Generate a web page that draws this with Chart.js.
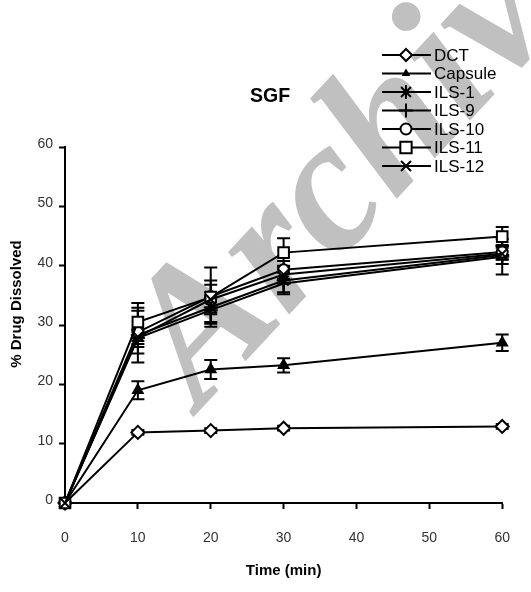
<!DOCTYPE html>
<html>
<head>
<meta charset="utf-8">
<script src="https://cdn.jsdelivr.net/npm/chart.js@4.4.1/dist/chart.umd.min.js"></script>
<style>
  html, body { margin: 0; padding: 0; background: #fff; }
  #wrap { width: 531px; height: 592px; }
</style>
</head>
<body>
<div id="wrap"><canvas id="sgfChart" width="531" height="592"></canvas></div>
<script>
// sampling times (min)
const times = [0, 10, 20, 30, 60];
const xTicks = [0, 10, 20, 30, 40, 50, 60];
const yTicks = [0, 10, 20, 30, 40, 50, 60];

// % drug dissolved
const dct = [0, 11.9, 12.2, 12.6, 12.9];
const capsule = [0, 19.0, 22.5, 23.2, 27.0];
const ils1 = [0, 28.3, 33.0, 37.5, 41.8];
const ils9 = [0, 27.8, 32.5, 37.0, 41.5];
const ils10 = [0, 28.8, 34.8, 39.3, 42.3];
const ils11 = [0, 30.5, 34.7, 42.2, 44.9];
const ils12 = [0, 28.0, 34.3, 38.5, 42.0];

// +/- error (SD)
const dctErr = [0, 0.4, 0.4, 0.4, 0.4];
const capsuleErr = [0, 1.5, 1.6, 1.2, 1.4];
const ils1Err = [0, 4.6, 2.5, 2.0, 1.5];
const ils9Err = [0, 1.5, 2.3, 1.8, 3.0];
const ils10Err = [0, 3.6, 2.7, 1.5, 1.2];
const ils11Err = [0, 3.2, 5.0, 2.4, 1.6];
const ils12Err = [0, 1.2, 2.5, 1.5, 1.0];

const FONT = "'Liberation Sans', Arial, sans-serif";

function makeSeries(idx, label, values, errors, style, fill, radius, legendRadius) {
  return {
    label: label,
    data: times.map((t, i) => ({ x: t, y: values[i] })),
    errors: errors,
    order: 10 - idx, // later series on top, like the original
    borderColor: "#000",
    borderWidth: 2,
    pointStyle: style,
    pointRadius: radius,
    pointHoverRadius: radius,
    pointBackgroundColor: fill,
    pointBorderColor: "#000",
    pointBorderWidth: 2,
    legendRadius: legendRadius,
    tension: 0,
    clip: false,
  };
}

const datasets = [
  makeSeries(0, "DCT", dct, dctErr, "rectRot", "#fff", 6.5, 6),
  makeSeries(1, "Capsule", capsule, capsuleErr, "triangle", "#000", 5.5, 3),
  makeSeries(2, "ILS-1", ils1, ils1Err, "star", "#000", 7, 7),
  makeSeries(3, "ILS-9", ils9, ils9Err, "cross", "#000", 7, 7),
  makeSeries(4, "ILS-10", ils10, ils10Err, "circle", "#fff", 5.5, 5.5),
  makeSeries(5, "ILS-11", ils11, ils11Err, "rect", "#fff", 7.5, 8),
  makeSeries(6, "ILS-12", ils12, ils12Err, "crossRot", "#000", 7, 7),
];

// white background, watermark, title and y-axis caption
const backdrop = {
  id: "backdrop",
  beforeDraw(chart) {
    const ctx = chart.ctx;
    ctx.save();
    ctx.fillStyle = "#fff";
    ctx.fillRect(0, 0, chart.width, chart.height);
    ctx.translate(200, 410);
    ctx.rotate(-47 * Math.PI / 180);
    ctx.fillStyle = "#c0c0c0";
    ctx.font = "italic bold 190px 'Liberation Serif', serif";
    ctx.fillText("Archive", 0, 0);
    ctx.restore();

    ctx.save();
    ctx.fillStyle = "#000";
    ctx.font = "bold 19.5px " + FONT;
    ctx.textAlign = "center";
    ctx.textBaseline = "middle";
    ctx.fillText("SGF", 270, 97);

    ctx.translate(17, 304);
    ctx.rotate(-Math.PI / 2);
    ctx.font = "bold 15px " + FONT;
    ctx.fillText("% Drug Dissolved", 0, 0);
    ctx.restore();
  },
};

const errorBars = {
  id: "errorBars",
  beforeDatasetsDraw(chart) {
    const ctx = chart.ctx;
    const xs = chart.scales.x;
    const ys = chart.scales.y;
    ctx.save();
    ctx.strokeStyle = "#000";
    ctx.lineWidth = 2;
    chart.data.datasets.forEach((ds) => {
      ds.data.forEach((p, i) => {
        const e = ds.errors[i];
        if (!e) return;
        const px = xs.getPixelForValue(p.x);
        const top = ys.getPixelForValue(p.y + e);
        const bot = ys.getPixelForValue(p.y - e);
        ctx.beginPath();
        ctx.moveTo(px, top);
        ctx.lineTo(px, bot);
        ctx.moveTo(px - 6.5, top);
        ctx.lineTo(px + 6.5, top);
        ctx.moveTo(px - 6.5, bot);
        ctx.lineTo(px + 6.5, bot);
        ctx.stroke();
      });
    });
    ctx.restore();
  },
};

const sideLegend = {
  id: "sideLegend",
  afterDraw(chart) {
    const ctx = chart.ctx;
    ctx.save();
    chart.data.datasets.forEach((ds, i) => {
      const y = 55 + i * 18.5;
      ctx.strokeStyle = "#000";
      ctx.lineWidth = 2;
      ctx.beginPath();
      ctx.moveTo(382, y);
      ctx.lineTo(431, y);
      ctx.stroke();
      ctx.fillStyle = ds.pointBackgroundColor;
      Chart.helpers.drawPoint(ctx, {
        pointStyle: ds.pointStyle,
        radius: ds.legendRadius,
        borderWidth: 2,
        rotation: 0,
      }, 406, y);
      ctx.fillStyle = "#000";
      ctx.font = "17px " + FONT;
      ctx.textBaseline = "middle";
      ctx.textAlign = "left";
      ctx.fillText(ds.label, 434, y + 1);
    });
    ctx.restore();
  },
};

new Chart(document.getElementById("sgfChart"), {
  type: "line",
  data: { datasets: datasets },
  plugins: [backdrop, errorBars, sideLegend],
  options: {
    responsive: false,
    devicePixelRatio: 1,
    animation: false,
    layout: { padding: { left: 0, right: 19, top: 147, bottom: 0 }, autoPadding: false },
    plugins: {
      legend: { display: false },
      title: { display: false },
      tooltip: { enabled: false },
    },
    scales: {
      x: {
        type: "linear",
        min: 0,
        max: 60,
        afterFit: (s) => { s.height = 89; },
        afterBuildTicks: (s) => { s.ticks = xTicks.map((v) => ({ value: v })); },
        border: { color: "#000", width: 2 },
        grid: { drawOnChartArea: false, drawTicks: true, tickLength: 6, tickColor: "#000", tickWidth: 2 },
        ticks: { padding: 21, color: "#333", font: { family: FONT, size: 14 }, maxRotation: 0 },
        title: { display: true, text: "Time (min)", color: "#000", font: { family: FONT, size: 15, weight: "bold" }, padding: { top: 0, bottom: 12 } },
      },
      y: {
        min: 0,
        max: 60,
        afterFit: (s) => { s.width = 65; },
        afterBuildTicks: (s) => { s.ticks = yTicks.map((v) => ({ value: v })); },
        border: { color: "#000", width: 2 },
        grid: { drawOnChartArea: false, drawTicks: true, tickLength: 6, tickColor: "#000", tickWidth: 2 },
        ticks: { padding: 6, labelOffset: -3, color: "#333", font: { family: FONT, size: 14 } },
        title: { display: false },
      },
    },
  },
});
</script>
</body>
</html>
